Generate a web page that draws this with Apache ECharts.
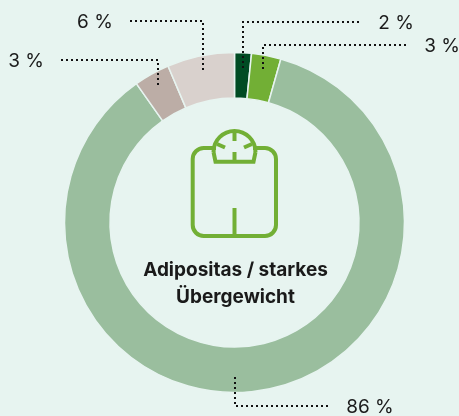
<!DOCTYPE html>
<html><head><meta charset="utf-8">
<style>html,body{margin:0;padding:0;background:#E7F4F0}#c{width:459px;height:416px}</style>
<script src="https://cdn.jsdelivr.net/npm/echarts@6/dist/echarts.min.js"></script>
</head><body><div id="c"></div>
<script>
const categories = ['Sehr dunkel', 'Grün', 'Salbei', 'Taupe', 'Beige'];
const values = [1.6, 2.8, 85.9, 3.4, 6.4];
const valueLabels = ['2 %', '3 %', '86 %', '3 %', '6 %'];
const colors = ['#004B23', '#72AF35', '#9ABE9E', '#BCADA6', '#D9D1CD'];
const labelAnchors = [[396, 23], [442, 46], [370, 407], [26, 61], [95, 22]];
const leaderPaths = [
  [[243, 68], [243, 22], [362, 22]],
  [[263, 69], [263, 45], [409, 45]],
  [[235, 377], [235, 406], [330, 406]],
  [[158, 85], [158, 60], [60, 60]],
  [[203, 70], [203, 21], [130, 21]]
];
const centerTitle = 'Adipositas / starkes\nÜbergewicht';
const bg = '#E7F4F0', iconColor = '#72AF35';
const iconStyle = {stroke: iconColor, lineWidth: 4, fill: null};
const pieBase = {
  type: 'pie',
  silent: true,
  center: [234.5, 222.5],
  radius: [124.5, 170],
  startAngle: 90,
  clockwise: true,
  avoidLabelOverlap: false
};
const chart = echarts.init(document.getElementById('c'), null, {renderer: 'canvas'});
chart.setOption({
  animation: false,
  backgroundColor: bg,
  series: [{
    ...pieBase,
    z: 2,
    data: categories.map((name, i) => ({name, value: values[i], itemStyle: {color: colors[i]}})),
    itemStyle: {borderColor: bg, borderWidth: 1.5},
    label: {show: false},
    labelLine: {show: false}
  }, {
    ...pieBase,
    z: 5,
    data: categories.map((name, i) => ({
      name, value: values[i],
      label: {formatter: valueLabels[i]}
    })),
    itemStyle: {color: 'transparent', borderWidth: 0},
    label: {show: true, position: 'outside', color: '#1a1a1a', fontFamily: 'Inter', fontSize: 19, fontWeight: 400},
    labelLine: {show: true, lineStyle: {color: '#111', width: 2, type: [2, 3]}},
    labelLayout: p => ({
      x: labelAnchors[p.dataIndex][0],
      y: labelAnchors[p.dataIndex][1],
      align: 'center',
      verticalAlign: 'middle',
      labelLinePoints: leaderPaths[p.dataIndex]
    })
  }],
  graphic: [
    {type: 'text', z: 10, x: 235.5, y: 256.5,
      style: {text: centerTitle, fill: '#1a1a1a', font: '700 19px Inter', lineHeight: 27, align: 'center'}},
    {type: 'group', z: 10, children: [
      {type: 'rect', z: 10, shape: {x: 192.7, y: 148, width: 83.3, height: 88, r: 11}, style: iconStyle},
      {type: 'rect', z: 11, shape: {x: 216, y: 145, width: 37, height: 6}, style: {fill: bg}},
      {type: 'arc', z: 12, shape: {cx: 234.5, cy: 152, r: 21, startAngle: Math.PI, endAngle: 0, clockwise: true}, style: iconStyle},
      {type: 'polyline', z: 12, shape: {points: [[213.5, 152], [215.5, 161.7], [253.5, 161.7], [255.5, 152]]}, style: iconStyle},
      {type: 'line', z: 12, shape: {x1: 234.5, y1: 133, x2: 234.5, y2: 141}, style: iconStyle},
      {type: 'line', z: 12, shape: {x1: 234.5, y1: 152, x2: 234.5, y2: 161}, style: iconStyle},
      {type: 'line', z: 12, shape: {x1: 217, y1: 144, x2: 225, y2: 147.5}, style: iconStyle},
      {type: 'line', z: 12, shape: {x1: 252, y1: 144, x2: 244, y2: 147.5}, style: iconStyle},
      {type: 'line', z: 12, shape: {x1: 234.5, y1: 208, x2: 234.5, y2: 236}, style: iconStyle}
    ]}
  ]
});
</script></body></html>
